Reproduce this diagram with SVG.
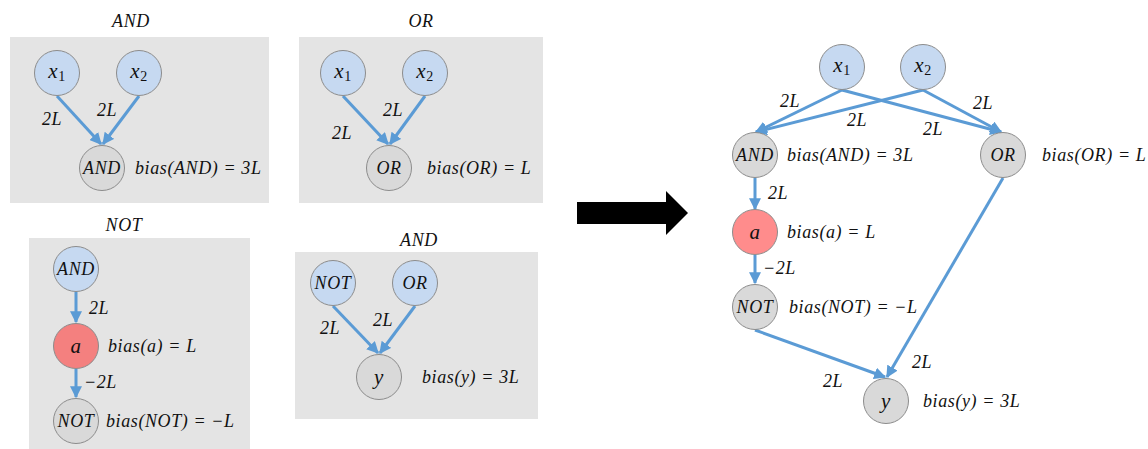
<svg xmlns="http://www.w3.org/2000/svg" width="1148" height="449" viewBox="0 0 1148 449">
<style>
text{font-family:"Liberation Serif","DejaVu Serif",serif;font-style:italic;font-size:18px;letter-spacing:0.6px;fill:#111;dominant-baseline:central}
.t{text-anchor:middle}
.big{font-size:21px}
.sub{font-style:normal;font-size:14px}
.panel{fill:#E4E4E4}
.nb{fill:#C6D9F1;stroke:#8C8C8C;stroke-width:1}
.ng{fill:#D9D9D9;stroke:#8C8C8C;stroke-width:1}
.nr{fill:#F4807F;stroke:#8C8C8C;stroke-width:1}
.e{stroke:#5B9BD5;stroke-width:3;fill:none;marker-end:url(#ah)}
</style>
<defs>
<marker id="ah" markerUnits="userSpaceOnUse" markerWidth="12" markerHeight="12" refX="9" refY="5" orient="auto" viewBox="0 0 10 10">
<path d="M0,0 L10,5 L0,10 z" fill="#5B9BD5"/>
</marker>
</defs>
<rect width="1148" height="449" fill="#fff"/>

<!-- panels -->
<g id="panel-and1">
<rect class="panel" x="10" y="37" width="259" height="166"/>
<text class="t" x="131" y="21">AND</text>
</g>
<g id="panel-or">
<rect class="panel" x="299" y="37" width="244" height="166"/>
<text class="t" x="421" y="21">OR</text>
</g>
<g id="panel-not">
<rect class="panel" x="29" y="238" width="221" height="211"/>
<text class="t" x="124" y="225">NOT</text>
</g>
<g id="panel-and2">
<rect class="panel" x="295" y="252" width="243" height="167"/>
<text class="t" x="419" y="240">AND</text>
</g>

<g id="connectors">
<line class="e" x1="57" y1="96" x2="101" y2="144"/>
<line class="e" x1="139" y1="96" x2="103" y2="144"/>
<line class="e" x1="343" y1="96" x2="388" y2="144"/>
<line class="e" x1="425" y1="96" x2="390" y2="144"/>
<line class="e" x1="76" y1="292" x2="76" y2="322"/>
<line class="e" x1="76" y1="369" x2="76" y2="397"/>
<line class="e" x1="333" y1="306" x2="378" y2="353"/>
<line class="e" x1="415" y1="306" x2="380" y2="353"/>
<line class="e" x1="842" y1="90" x2="756" y2="132"/>
<line class="e" x1="923" y1="90" x2="756" y2="132"/>
<line class="e" x1="842" y1="90" x2="1001" y2="132"/>
<line class="e" x1="923" y1="90" x2="1001" y2="132"/>
<line class="e" x1="755" y1="178" x2="755" y2="209"/>
<line class="e" x1="755" y1="255" x2="755" y2="283"/>
<line class="e" x1="755" y1="330" x2="885" y2="377"/>
<line class="e" x1="1003" y1="178" x2="887" y2="377"/>
</g>

<g id="edge-labels">
<text class="t" x="52" y="119">2L</text>
<text class="t" x="107" y="110">2L</text>
<text class="t" x="342" y="133">2L</text>
<text class="t" x="393" y="110">2L</text>
<text x="89" y="308">2L</text>
<text x="84" y="382">−2L</text>
<text class="t" x="330" y="328">2L</text>
<text class="t" x="383" y="320">2L</text>
<text class="t" x="790" y="101">2L</text>
<text class="t" x="857" y="120">2L</text>
<text class="t" x="933" y="129">2L</text>
<text class="t" x="983" y="103">2L</text>
<text x="768" y="193">2L</text>
<text x="763" y="268">−2L</text>
<text class="t" x="922" y="362">2L</text>
<text class="t" x="833" y="381">2L</text>
</g>

<!-- panel 1 nodes -->
<g id="p1-x1"><circle class="nb" cx="57" cy="73" r="22.5"/><text class="t big" x="57" y="71">x<tspan class="sub" dy="5">1</tspan></text></g>
<g id="p1-x2"><circle class="nb" cx="139" cy="73" r="22.5"/><text class="t big" x="139" y="71">x<tspan class="sub" dy="5">2</tspan></text></g>
<g id="p1-and"><circle class="ng" cx="102" cy="168" r="22.5"/><text class="t" x="102" y="168">AND</text><text x="135" y="168">bias(AND) = 3L</text></g>

<!-- panel 2 nodes -->
<g id="p2-x1"><circle class="nb" cx="343" cy="73" r="22.5"/><text class="t big" x="343" y="71">x<tspan class="sub" dy="5">1</tspan></text></g>
<g id="p2-x2"><circle class="nb" cx="425" cy="73" r="22.5"/><text class="t big" x="425" y="71">x<tspan class="sub" dy="5">2</tspan></text></g>
<g id="p2-or"><circle class="ng" cx="389" cy="168" r="22.5"/><text class="t" x="389" y="168">OR</text><text x="427" y="168">bias(OR) = L</text></g>

<!-- panel 3 nodes -->
<g id="p3-and"><circle class="nb" cx="76" cy="269" r="22.5"/><text class="t" x="76" y="269">AND</text></g>
<g id="p3-a"><circle class="nr" cx="76" cy="346" r="22.5"/><text class="t big" x="76" y="346">a</text><text x="108" y="346">bias(a) = L</text></g>
<g id="p3-not"><circle class="ng" cx="76" cy="421" r="22.5"/><text class="t" x="76" y="421">NOT</text><text x="106" y="421">bias(NOT) = −L</text></g>

<!-- panel 4 nodes -->
<g id="p4-not"><circle class="nb" cx="333" cy="283" r="22.5"/><text class="t" x="333" y="283">NOT</text></g>
<g id="p4-or"><circle class="nb" cx="415" cy="283" r="22.5"/><text class="t" x="415" y="283">OR</text></g>
<g id="p4-y"><circle class="ng" cx="379" cy="377" r="22.5"/><text class="t big" x="379" y="377">y</text><text x="422" y="377">bias(y) = 3L</text></g>

<!-- big arrow -->
<g id="big-arrow"><path d="M577,202 L666,202 L666,191 L688,213 L666,235 L666,224 L577,224 z" fill="#000"/></g>

<!-- right graph -->
<g id="r-x1"><circle class="nb" cx="842" cy="67" r="22.5"/><text class="t big" x="842" y="65">x<tspan class="sub" dy="5">1</tspan></text></g>
<g id="r-x2"><circle class="nb" cx="923" cy="67" r="22.5"/><text class="t big" x="923" y="65">x<tspan class="sub" dy="5">2</tspan></text></g>
<g id="r-and"><circle class="ng" cx="755" cy="155" r="22.5"/><text class="t" x="755" y="155">AND</text><text x="787" y="155">bias(AND) = 3L</text></g>
<g id="r-or"><circle class="ng" cx="1003" cy="155" r="22.5"/><text class="t" x="1003" y="155">OR</text><text x="1042" y="155">bias(OR) = L</text></g>
<g id="r-a"><circle class="nr" cx="755" cy="232" r="22.5" style="fill:#FF8C8C"/><text class="t big" x="755" y="232">a</text><text x="787" y="232">bias(a) = L</text></g>
<g id="r-not"><circle class="ng" cx="755" cy="307" r="22.5"/><text class="t" x="755" y="307">NOT</text><text x="789" y="307">bias(NOT) = −L</text></g>
<g id="r-y"><circle class="ng" cx="886" cy="401" r="22.5"/><text class="t big" x="886" y="401">y</text><text x="923" y="401">bias(y) = 3L</text></g>
</svg>
